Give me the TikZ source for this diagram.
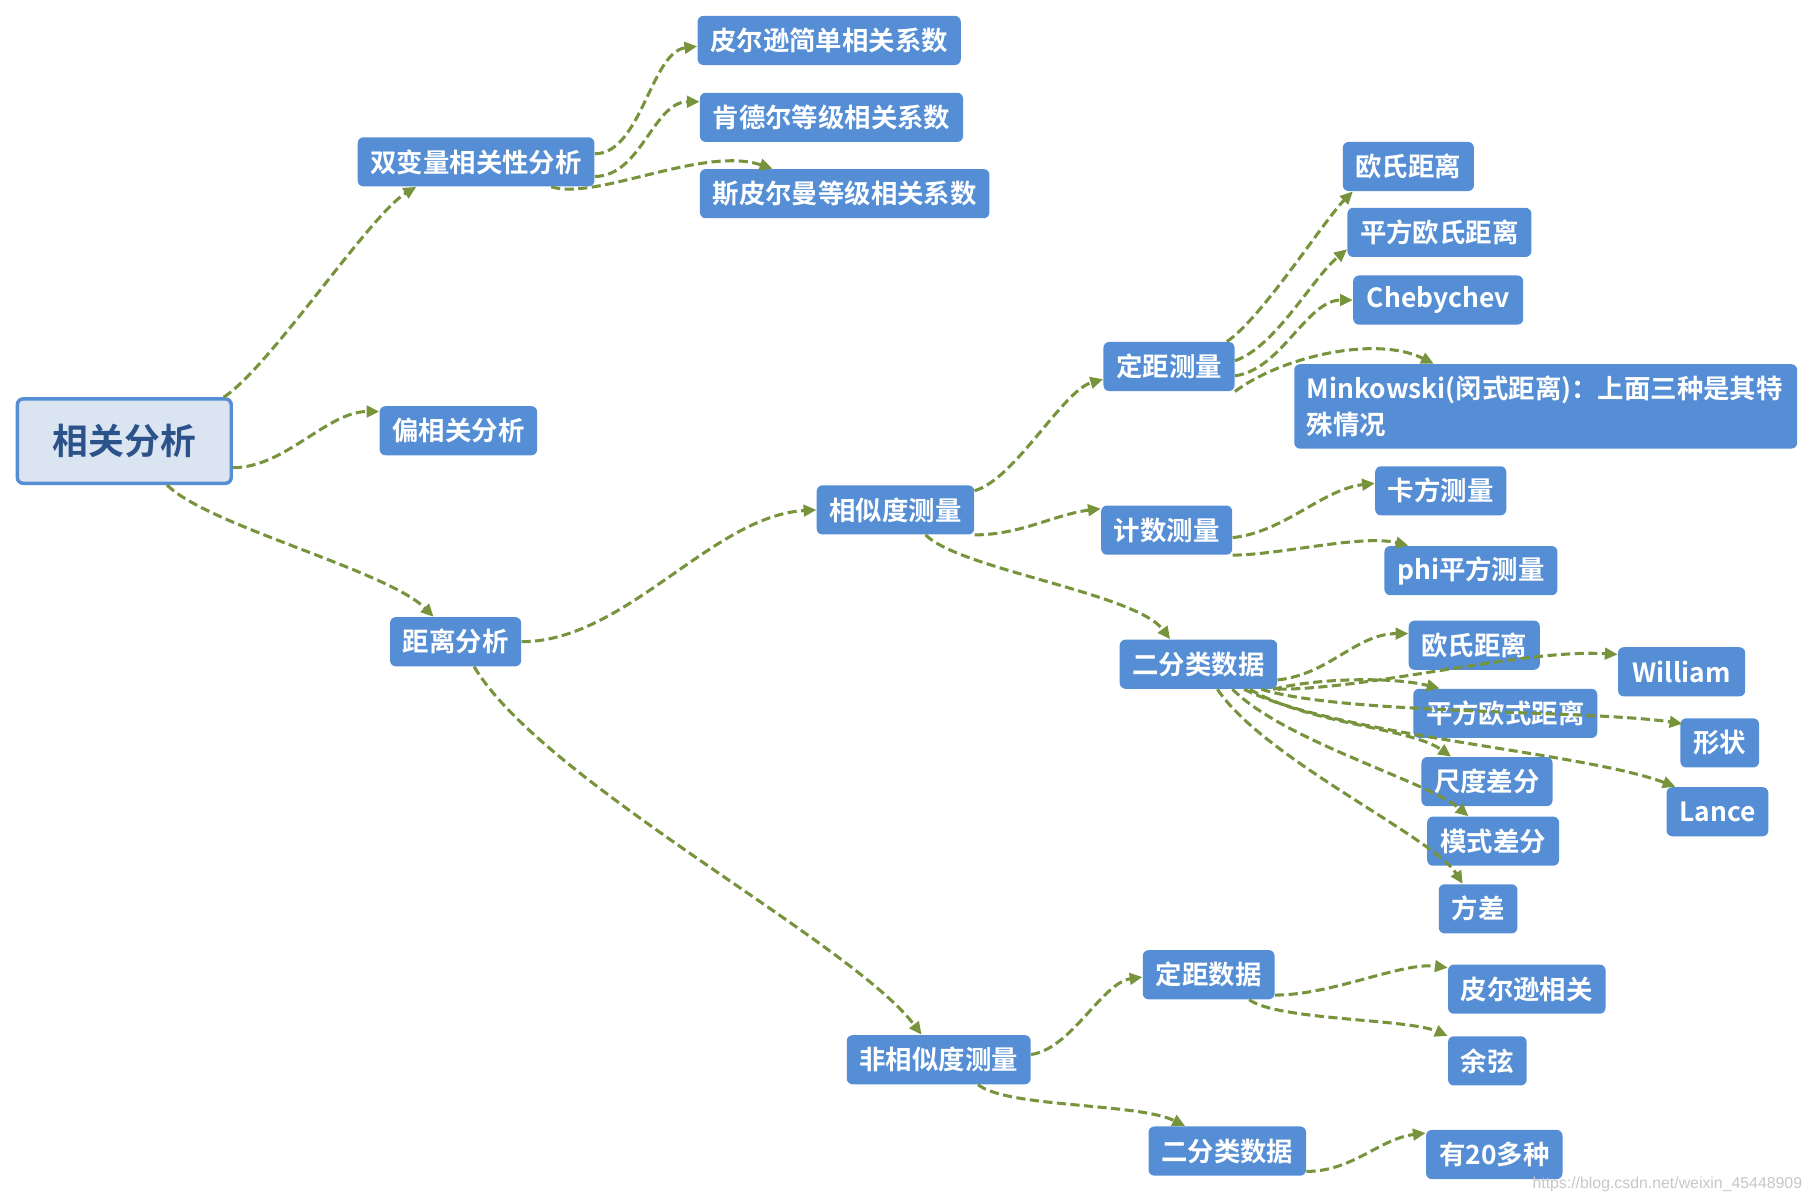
\documentclass[tikz,border=0pt]{standalone}
\usepackage{fontspec}
\setmainfont{Noto Sans CJK SC}[BoldFont={* Bold}]
\newfontfamily\wmfont{Liberation Sans}
\usetikzlibrary{arrows.meta, calc}
\definecolor{nodeblue}{RGB}{85,142,213}
\definecolor{rootfill}{RGB}{219,229,241}
\definecolor{roottext}{RGB}{44,82,138}
\definecolor{linkgreen}{RGB}{119,147,60}

\begin{document}
\begin{tikzpicture}[x=0.02cm, y=0.02cm,
    leaf/.style={fill=nodeblue, text=white, rounded corners=0.1cm, minimum height=0.85cm, inner xsep=0.22cm, inner ysep=0pt, anchor=west, font=\fontsize{13}{15}\selectfont\bfseries},
    rootbox/.style={draw=nodeblue, line width=1.7pt, fill=rootfill, text=roottext, rounded corners=0.1cm, minimum width=3.7cm, minimum height=1.46cm, font=\fontsize{17.6}{20}\selectfont\bfseries},
    link/.style={draw=linkgreen, line width=1.5pt, dash pattern=on 4.5pt off 2.2pt, -{Triangle[length=0.22cm, width=0.2cm]}}]
    \useasboundingbox (0,0) rectangle (1568,-1040);
    \node[rootbox] (root) at (107.5,-381.5) {相关分析};
    \foreach \n/\x/\y/\w/\t in {biv/309/140/202/双变量相关性分析, pear/603/35/225/皮尔逊简单相关系数,
        kend/605/101.5/225/肯德尔等级相关系数, spear/605/167.5/247/斯皮尔曼等级相关系数,
        partial/328/372.5/135/偏相关分析, dist/337/555/113/距离分析, sim/706/441/136/相似度测量,
        interval/954/317/113/定距测量, euc/1161/144/113/欧氏距离, sqeuc/1165/201/158/平方欧氏距离,
        cheb/1170/259.5/147/Chebychev, count/952/458.5/113/计数测量, chisq/1189/424.5/113/卡方测量,
        phi/1197/493.5/149/phi平方测量, binA/968/574.5/136/二分类数据, euc2/1218/558/113/欧氏距离,
        sqeuc2/1222/617/159/平方欧式距离, scalediff/1229/676/112/尺度差分, patterndiff/1234/727.5/114/模式差分,
        var/1244/786/68/方差, william/1399/581/110/William, shapeN/1453/642.5/68/形状, lance/1441/702/88/Lance,
        dissim/732/916.5/158/非相似度测量, intdata/988/843/114/定距数据, pcorr/1252/855.5/135/皮尔逊相关,
        cosine/1252/917.5/68/余弦, binB/993/995.5/135/二分类数据, many/1233/998.5/118/有20多种} {
        \node[leaf, minimum width=\w*0.02cm] (\n) at (\x,-\y) {\t};
    }
    \node[leaf, align=left, text width=8.26cm, minimum height=1.46cm, font=\fontsize{13}{17.5}\selectfont\bfseries] (mink) at (1119,-351.5) {Minkowski(闵式距离)：上面三种是其特\\殊情况};
    \node[text=black!22, font=\wmfont\fontsize{7.8}{9}\selectfont] (credit) at (1442,-1024) {https://blog.csdn.net/weixin\_45448909};

    \draw[link] ($(root.north east)+(-8,0)$) .. controls +(40,26) and +(-40,-24) .. ($(biv.south west)+(51,0)$);
    \draw[link] ($(root.south east)+(0,15)$) .. controls +(45,0) and +(-45,0) .. ($(partial.north west)+(0,-5)$);
    \draw[link] ($(root.south)+(37,0)$) .. controls +(35,-35) and +(-40,40) .. ($(dist.north west)+(38,0)$);
    \draw[link] ($(biv.east)+(0,7)$) .. controls +(40,0) and +(-40,-5) .. ($(pear.west)+(0,-5)$);
    \draw[link] ($(biv.south east)+(0,9)$) .. controls +(40,0) and +(-40,0) .. ($(kend.west)+(0,13.5)$);
    \draw[link] ($(biv.south)+(65,0)$) .. controls +(40,-12) and +(-60,20) .. ($(spear.north west)+(63,0)$);
    \draw[link] (dist.east) .. controls +(90,0) and +(-90,-5) .. (sim.west);
    \draw[link] ($(dist.south)+(16,0)$) .. controls +(60,-100) and +(-60,80) .. ($(dissim.north west)+(65,0)$);
    \draw[link] ($(sim.north east)+(0,-5)$) .. controls +(35,10) and +(-35,-10) .. ($(interval.west)+(0,-11)$);
    \draw[link] (sim.south east) .. controls +(40,0) and +(-40,-5) .. ($(count.north west)+(0,-3)$);
    \draw[link] ($(sim.south)+(26,0)$) .. controls +(30,-30) and +(-30,40) .. ($(binA.north west)+(44,0)$);
    \draw[link] ($(interval.north east)+(-7,0)$) .. controls +(30,20) and +(-25,-25) .. ($(euc.south west)+(9,0)$);
    \draw[link] ($(interval.east)+(0,5)$) .. controls +(35,12) and +(-30,-25) .. ($(sqeuc.south west)+(0,7)$);
    \draw[link] ($(interval.east)+(0,-8)$) .. controls +(40,5) and +(-40,0) .. (cheb.west);
    \draw[link] (interval.south east) .. controls +(40,30) and +(-50,25) .. ($(mink.north west)+(121,0)$);
    \draw[link] ($(count.east)+(0,-6.5)$) .. controls +(45,5) and +(-45,-5) .. ($(chisq.west)+(0,6.5)$);
    \draw[link] (count.south east) .. controls +(40,0) and +(-40,10) .. ($(phi.north west)+(21,0)$);
    \draw[link] ($(binA.south east)+(0,8)$) .. controls +(45,5) and +(-45,0) .. ($(euc2.west)+(0,10)$);
    \draw[link] (binA.south east) .. controls +(80,0) and +(-80,5) .. ($(william.west)+(0,15)$);
    \draw[link] ($(binA.south east)+(-4,0)$) .. controls +(40,10) and +(-40,10) .. ($(sqeuc2.north west)+(23,0)$);
    \draw[link] ($(binA.south east)+(-14,0)$) .. controls +(70,-22) and +(-80,12) .. ($(shapeN.north west)+(2,-5)$);
    \draw[link] ($(binA.south east)+(-24,0)$) .. controls +(50,-30) and +(-35,25) .. ($(scalediff.north west)+(26,0)$);
    \draw[link] ($(binA.south east)+(-29,0)$) .. controls +(80,-40) and +(-80,30) .. ($(lance.north west)+(8,0)$);
    \draw[link] ($(binA.south east)+(-39,0)$) .. controls +(45,-45) and +(-35,30) .. ($(patterndiff.north west)+(36,0)$);
    \draw[link] ($(binA.south east)+(-52,0)$) .. controls +(40,-60) and +(-25,40) .. ($(var.north west)+(21,0)$);
    \draw[link] ($(dissim.east)+(0,4.5)$) .. controls +(35,5) and +(-35,-5) .. ($(intdata.west)+(0,-2)$);
    \draw[link] ($(dissim.south)+(34,0)$) .. controls +(25,-20) and +(-40,20) .. ($(binB.north west)+(32,0)$);
    \draw[link] ($(intdata.south east)+(0,4)$) .. controls +(50,0) and +(-40,5) .. ($(pcorr.north west)+(0,-3)$);
    \draw[link] ($(intdata.south)+(35,0)$) .. controls +(25,-18) and +(-35,15) .. (cosine.north west);
    \draw[link] ($(binB.south east)+(0,4)$) .. controls +(40,0) and +(-40,-5) .. ($(many.north west)+(0,-3)$);
\end{tikzpicture}
\end{document}
